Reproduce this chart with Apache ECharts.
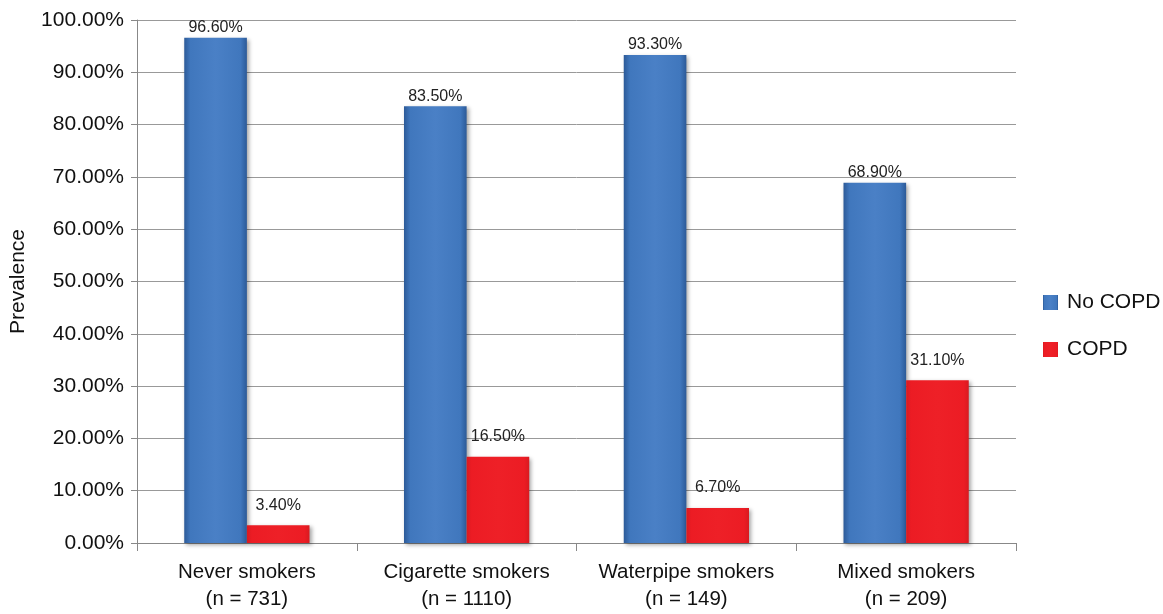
<!DOCTYPE html>
<html><head><meta charset="utf-8">
<script src="https://cdn.jsdelivr.net/npm/echarts@6/dist/echarts.min.js"></script>
<style>html,body{margin:0;padding:0;background:#fff}#c{width:1163px;height:614px}</style>
</head><body><div id="c"></div>
<script>
const categories = ['Never smokers\n(n = 731)', 'Cigarette smokers\n(n = 1110)', 'Waterpipe smokers\n(n = 149)', 'Mixed smokers\n(n = 209)'];
const noCopd = [96.6, 83.5, 93.3, 68.9];
const copd = [3.4, 16.5, 6.7, 31.1];
const seriesNames = ['No COPD', 'COPD'];

const blueGrad = new echarts.graphic.LinearGradient(0, 0, 1, 0, [
  {offset: 0, color: '#2c5a98'}, {offset: 0.1, color: '#4077bd'}, {offset: 0.5, color: '#4a80c6'},
  {offset: 0.9, color: '#4077bd'}, {offset: 1, color: '#2c5a98'}]);
const redGrad = new echarts.graphic.LinearGradient(0, 0, 1, 0, [
  {offset: 0, color: '#d81a20'}, {offset: 0.08, color: '#ec1c24'}, {offset: 0.5, color: '#ee2027'},
  {offset: 0.92, color: '#ec1c24'}, {offset: 1, color: '#d81a20'}]);

const chart = echarts.init(document.getElementById('c'));
const font = 'Liberation Sans, Arial, sans-serif';
chart.setOption({
  animation: false,
  textStyle: {fontFamily: font},
  grid: {left: 136, right: 147, top: 20, bottom: 71},
  legend: {
    orient: 'vertical', left: 1038, top: 287, itemGap: 26, itemWidth: 15, itemHeight: 15,
    icon: 'rect',
    textStyle: {fontSize: 21, color: '#111', fontFamily: font, padding: [0, 0, 0, 4]},
    data: seriesNames
  },
  xAxis: {
    type: 'category', data: categories,
    axisLine: {lineStyle: {color: '#888', width: 1}},
    axisTick: {show: true, length: 8, interval: 0, lineStyle: {color: '#888'}},
    axisLabel: {interval: 0, fontSize: 20.5, color: '#111', lineHeight: 27, margin: 16, fontFamily: font}
  },
  yAxis: {
    type: 'value', min: 0, max: 100, interval: 10,
    name: 'Prevalence', nameLocation: 'middle', nameGap: 108, nameRotate: 90,
    nameTextStyle: {fontSize: 21, color: '#111', fontFamily: font},
    axisLine: {show: true, lineStyle: {color: '#888'}},
    axisTick: {show: true, length: 6, lineStyle: {color: '#888'}},
    axisLabel: {fontSize: 21, color: '#111', margin: 13, fontFamily: font,
      formatter: v => v.toFixed(2) + '%'},
    splitLine: {lineStyle: {color: '#999', width: 1}}
  },
  series: [
    {name: seriesNames[0], type: 'bar', data: noCopd, barGap: '0%', barCategoryGap: '43%',
      itemStyle: {color: blueGrad, shadowColor: 'rgba(0,0,0,0.35)', shadowBlur: 4, shadowOffsetX: 2, shadowOffsetY: 2},
      label: {show: true, position: 'top', distance: 2, fontSize: 16, color: '#222', fontFamily: font,
        formatter: p => p.value.toFixed(2) + '%'}},
    {name: seriesNames[1], type: 'bar', data: copd, barGap: '0%', barCategoryGap: '43%',
      itemStyle: {color: redGrad, shadowColor: 'rgba(0,0,0,0.35)', shadowBlur: 4, shadowOffsetX: 2, shadowOffsetY: 2},
      label: {show: true, position: 'top', distance: 12, fontSize: 16, color: '#222', fontFamily: font,
        formatter: p => p.value.toFixed(2) + '%'}}
  ]
});
</script></body></html>
